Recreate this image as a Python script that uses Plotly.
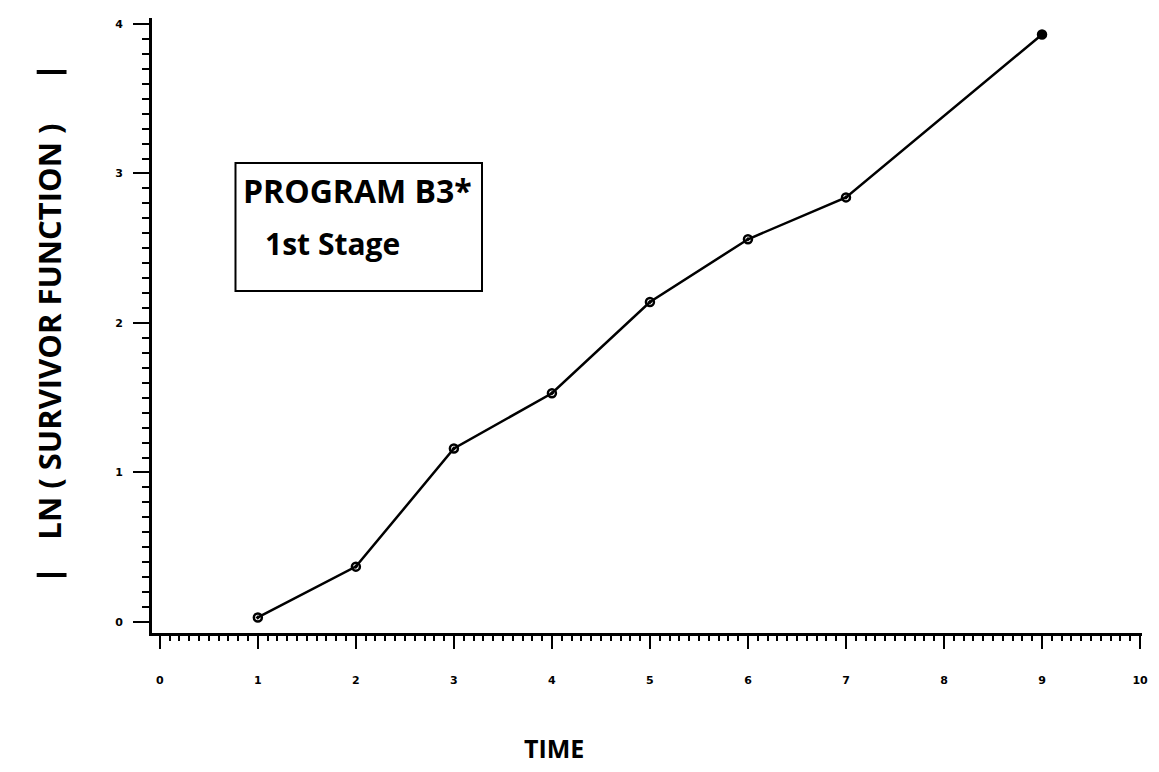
import plotly.graph_objects as go

time = [1, 2, 3, 4, 5, 6, 7, 9]
ln_survivor = [0.03, 0.37, 1.16, 1.53, 2.14, 2.56, 2.84, 3.93]
marker_symbols = ["circle-open-dot"] * 7 + ["circle"]
x_ticks = [0, 1, 2, 3, 4, 5, 6, 7, 8, 9, 10]
y_ticks = [0, 1, 2, 3, 4]

L, R, T, B = 152, 11, 18, 139
W, H = 1159, 772
pw, ph = W - L - R, H - T - B

def px_x(p):
    return (p - L) / pw

def px_y(p):
    return (H - B - p) / ph

fig = go.Figure()
fig.add_trace(go.Scatter(
    x=time, y=ln_survivor, mode="lines+markers",
    line=dict(color="black", width=2.5),
    marker=dict(symbol=marker_symbols, size=8, color="black",
                line=dict(color="black", width=2.5)),
    showlegend=False,
))

tickfont = dict(family="DejaVu Sans", size=11, color="black", weight="bold")
fig.update_layout(
    width=W, height=H,
    margin=dict(l=L, r=R, t=T, b=B),
    paper_bgcolor="white", plot_bgcolor="white",
    xaxis=dict(range=[-0.08, 10.02], tickvals=x_ticks, ticktext=[str(v) for v in x_ticks],
               showline=True, linecolor="black", linewidth=3,
               ticks="outside", ticklen=13, tickwidth=2, tickcolor="black",
               minor=dict(dtick=0.1, ticks="outside", ticklen=5, tickwidth=2, tickcolor="black"),
               showgrid=False, zeroline=False, tickfont=tickfont, ticklabelstandoff=22),
    yaxis=dict(range=[-0.074, 4.04], tickvals=y_ticks, ticktext=[str(v) for v in y_ticks],
               showline=True, linecolor="black", linewidth=3,
               ticks="outside", ticklen=16, tickwidth=2, tickcolor="black",
               minor=dict(dtick=0.1, ticks="outside", ticklen=7, tickwidth=2, tickcolor="black"),
               showgrid=False, zeroline=False, tickfont=tickfont, ticklabelstandoff=8),
)

def bold(size):
    return dict(family="Open Sans", size=size, color="black", weight="bold")

# legend-like box
fig.add_shape(type="rect", xref="paper", yref="paper",
              x0=px_x(236), x1=px_x(484), y0=px_y(291), y1=px_y(163),
              line=dict(color="black", width=2), fillcolor="white", layer="above")
fig.add_annotation(xref="paper", yref="paper", x=px_x(242), y=px_y(190),
                   xanchor="left", yanchor="middle", text="PROGRAM B3*",
                   showarrow=False, font=bold(32))
fig.add_annotation(xref="paper", yref="paper", x=px_x(264), y=px_y(243),
                   xanchor="left", yanchor="middle", text="1st Stage",
                   showarrow=False, font=bold(30))

# axis titles
fig.add_annotation(xref="paper", yref="paper", x=px_x(556), y=px_y(748),
                   xanchor="center", yanchor="middle", text="TIME",
                   showarrow=False, font=bold(25))
fig.add_annotation(xref="paper", yref="paper", x=px_x(48), y=px_y(332),
                   xanchor="center", yanchor="middle", text="LN ( SURVIVOR FUNCTION )",
                   textangle=-90, showarrow=False, font=bold(31))
for yb in (72, 575):
    fig.add_shape(type="line", xref="paper", yref="paper",
                  x0=px_x(36), x1=px_x(66), y0=px_y(yb), y1=px_y(yb),
                  line=dict(color="black", width=4))

fig.write_html("out.html")
